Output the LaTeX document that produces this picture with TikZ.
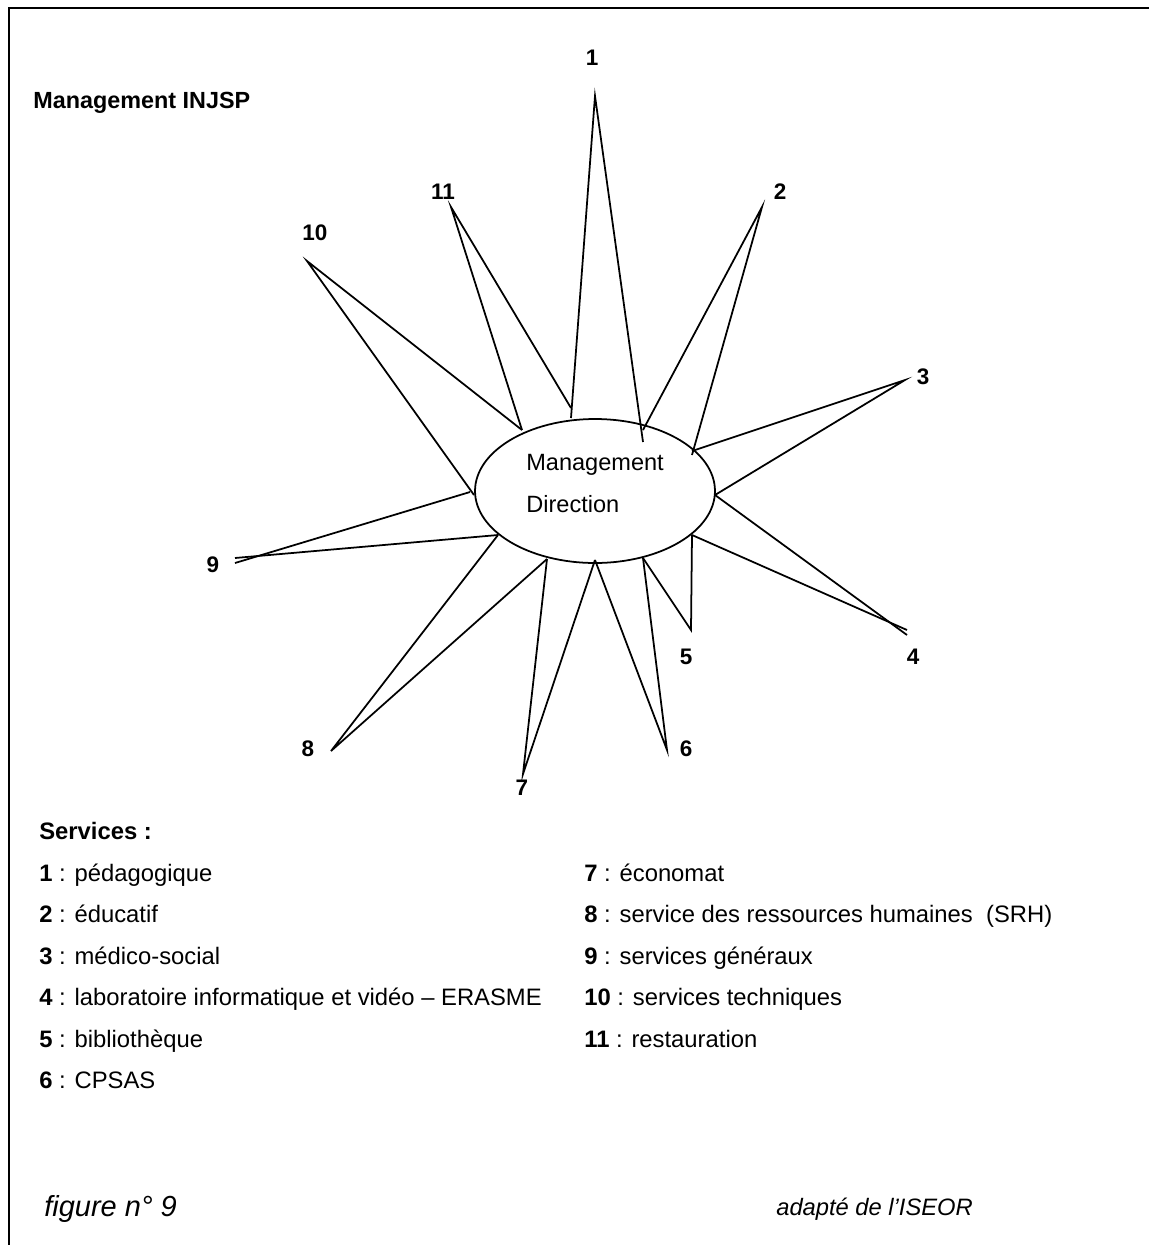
\documentclass[tikz,border=0pt]{standalone}
\usepackage{fontspec}
\setmainfont{Liberation Sans}
\usetikzlibrary{shapes.geometric}
\begin{document}
\begin{tikzpicture}[x=0.02cm,y=-0.02cm,
  spoke/.style={line width=1pt},
  num/.style={font=\fontsize{12.8}{15}\selectfont\bfseries, inner sep=0},
  legend/.style={font=\fontsize{13.55}{16}\selectfont, anchor=base west, inner sep=0},
  ]
\useasboundingbox (0,0) rectangle (1149,1245);

% frame (top and left edges)
\draw[line width=1.2pt] (9,1260) -- (9,8) -- (1160,8);

% heading
\node[legend, font=\fontsize{13.3}{16}\selectfont\bfseries] (title) at (33,108) {Management INJSP};

% central ellipse
\node[draw, ellipse, line width=1pt, minimum width=4.8cm, minimum height=2.88cm, inner sep=0] (mgmt) at (595,491) {};
\node[anchor=base west, inner sep=0, font=\fontsize{13.4}{16}\selectfont] (mgmtA) at (526,470) {Management};
\node[anchor=base west, inner sep=0, font=\fontsize{13.4}{16}\selectfont] (mgmtB) at (526,512) {Direction};

% attachment points on the ellipse
\coordinate (a1) at (571,408);
\coordinate (a2) at (571,418);
\coordinate (a3) at (643,442);
\coordinate (a4) at (643,430);
\coordinate (a5) at (692,455);
\coordinate (a6) at (692,451);
\coordinate (a7) at (715,495);
\coordinate (a8) at (692,535);
\coordinate (a9) at (643,558);
\coordinate (a10) at (595,560);
\coordinate (a11) at (547,559);
\coordinate (a12) at (498,535);
\coordinate (a13) at (470,492);
\coordinate (a14) at (474,495);
\coordinate (a15) at (522,430);

% spike tips
\coordinate (t1) at (595,96);
\coordinate (t2) at (762,207);
\coordinate (t3) at (905,380);
\coordinate (t4a) at (907,630);
\coordinate (t4b) at (907,635);
\coordinate (t5) at (691,630);
\coordinate (t6) at (667,750);
\coordinate (t7) at (523,774);
\coordinate (t8) at (331,751);
\coordinate (t9a) at (235,558);
\coordinate (t9b) at (235,563);
\coordinate (t10) at (307,261);
\coordinate (t11) at (451,207);

% spikes
\draw[spoke] (a2) -- (t1) -- (a3);
\draw[spoke] (a4) -- (t2) -- (a5);
\draw[spoke] (a6) -- (t3) -- (a7);
\draw[spoke] (a7) -- (t4b);
\draw[spoke] (a8) -- (t4a);
\draw[spoke] (a8) -- (t5) -- (a9);
\draw[spoke] (a9) -- (t6) -- (a10);
\draw[spoke] (a10) -- (t7) -- (a11);
\draw[spoke] (a11) -- (t8) -- (a12);
\draw[spoke] (a12) -- (t9a);
\draw[spoke] (a13) -- (t9b);
\draw[spoke] (a14) -- (t10) -- (a15);
\draw[spoke] (a15) -- (t11) -- (a1);

% spike numbers
\node[num] (n1) at (592,58) {1};
\node[num] (n2) at (780,192) {2};
\node[num] (n3) at (923,377) {3};
\node[num] (n4) at (913,657) {4};
\node[num] (n5) at (686,657) {5};
\node[num] (n6) at (686,749) {6};
\node[num] (n7) at (522,788) {7};
\node[num] (n8) at (308,749) {8};
\node[num] (n9) at (213,565) {9};
\node[num] (n10) at (315,233) {10};
\node[num] (n11) at (443,192) {11};

% legend
\node[legend, font=\fontsize{13.55}{16}\selectfont\bfseries] (svc) at (39,839) {Services :};
\node[legend] (l1) at (39,881) {\textbf{1} : pédagogique};
\node[legend] (l2) at (39,922.5) {\textbf{2} : éducatif};
\node[legend] (l3) at (39,964) {\textbf{3} : médico-social};
\node[legend] (l4) at (39,1005.5) {\textbf{4} : laboratoire informatique et vidéo – ERASME};
\node[legend] (l5) at (39,1047) {\textbf{5} : bibliothèque};
\node[legend] (l6) at (39,1088.5) {\textbf{6} : CPSAS};
\node[legend] (l7) at (584,881) {\textbf{7} : économat};
\node[legend] (l8) at (584,922.5) {\textbf{8} : service des ressources humaines\ \ (SRH)};
\node[legend] (l9) at (584,964) {\textbf{9} : services généraux};
\node[legend] (l10) at (584,1005.5) {\textbf{10} : services techniques};
\node[legend] (l11) at (584,1047) {\textbf{11} : restauration};

% footer
\node[anchor=base west, inner sep=0, font=\fontsize{16.5}{19}\selectfont\itshape] (fig) at (44,1216) {figure n° 9};
\node[anchor=base west, inner sep=0, font=\fontsize{13.5}{16}\selectfont\itshape] (src) at (776,1215) {adapté de l’ISEOR};
\end{tikzpicture}
\end{document}
